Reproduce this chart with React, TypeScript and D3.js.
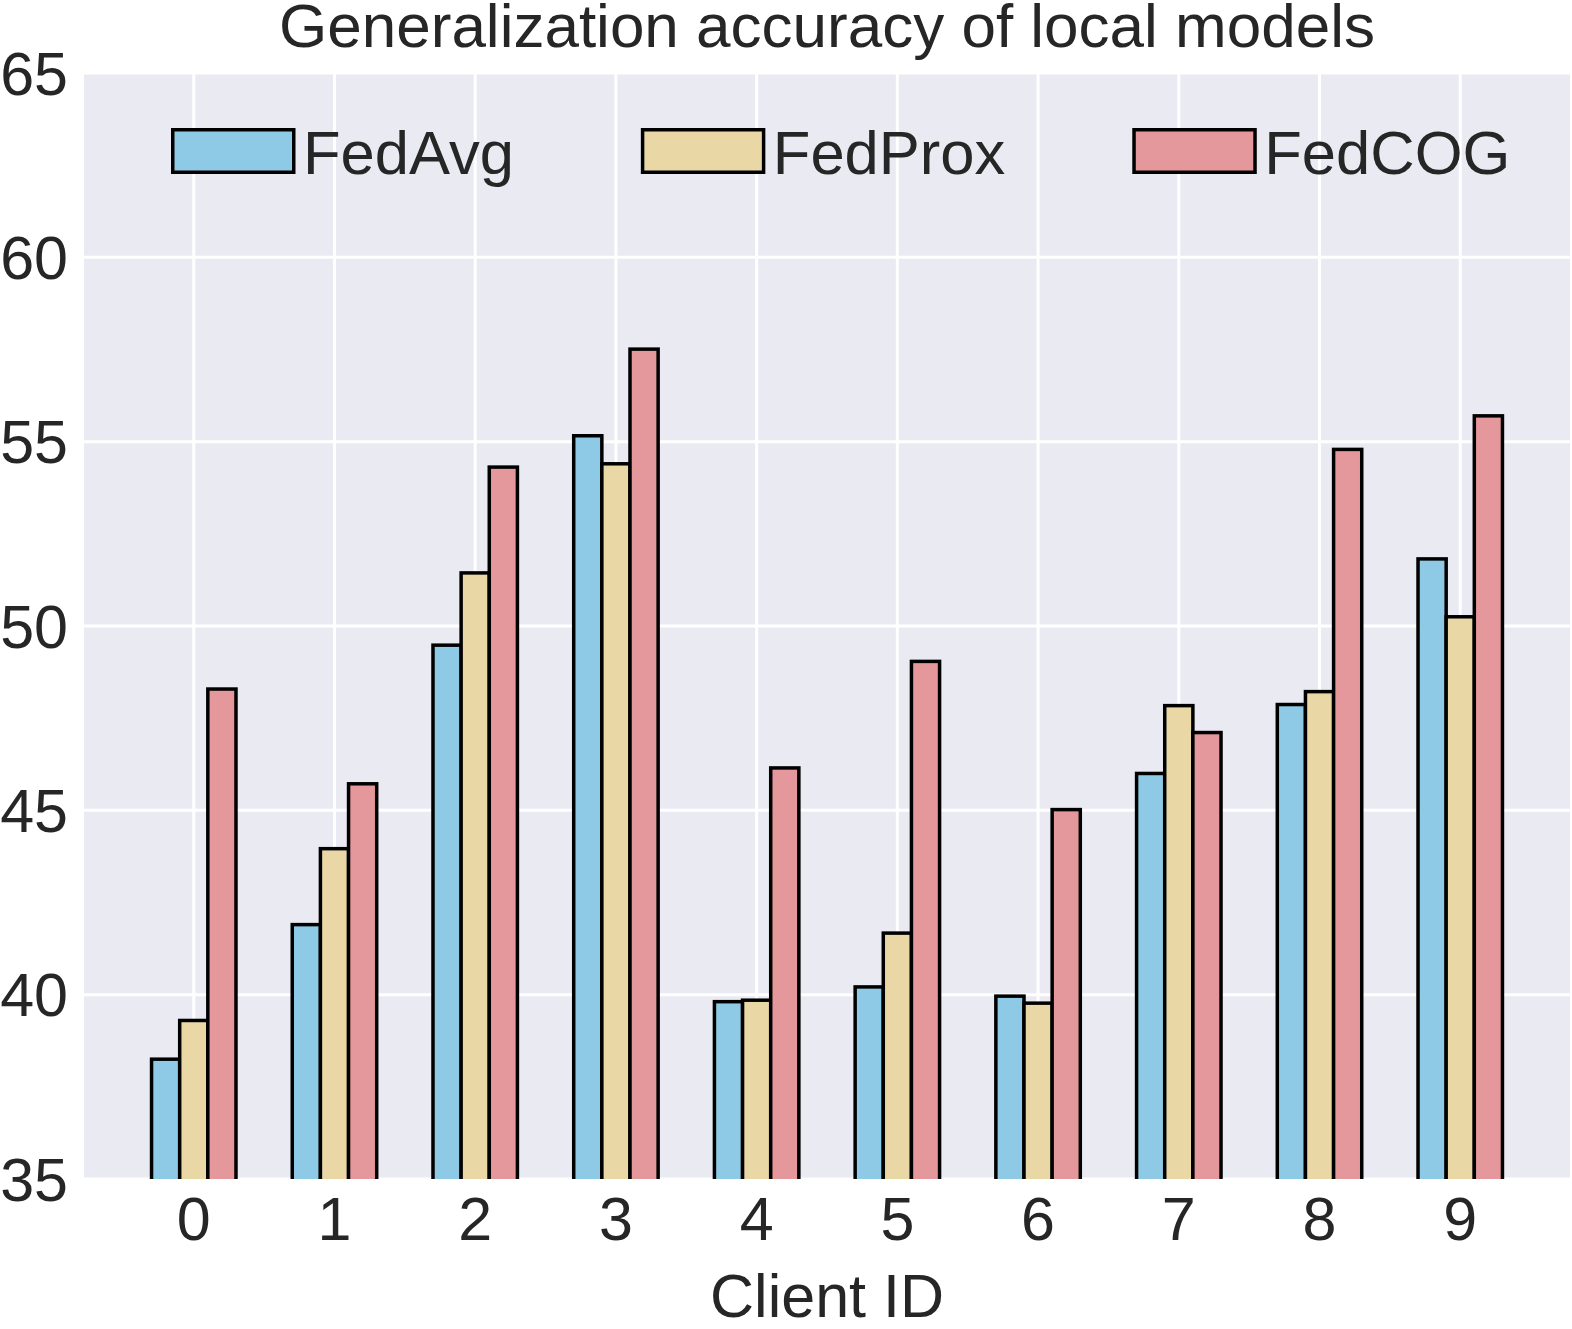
import React, { useEffect, useRef } from 'react';
import * as d3 from 'd3';

// Chart data
const clients = ['0', '1', '2', '3', '4', '5', '6', '7', '8', '9'];
const fedAvg = [38.25, 41.9, 49.48, 55.16, 39.81, 40.21, 39.96, 46.0, 47.87, 51.82];
const fedProx = [39.3, 43.96, 51.44, 54.4, 39.85, 41.67, 39.77, 47.84, 48.22, 50.25];
const fedCOG = [48.29, 45.72, 54.31, 57.51, 46.15, 49.04, 45.02, 47.11, 54.79, 55.7];
const seriesNames = ['FedAvg', 'FedProx', 'FedCOG'];
const seriesColors = ['#8ECAE6', '#E9D8A6', '#E5989B'];
const yTicks = [35, 40, 45, 50, 55, 60, 65];

const WIDTH = 1572;
const HEIGHT = 1329;
const FONT = '"Liberation Sans", Arial, sans-serif';
const TEXT = '#262626';

export default function App() {
  const svgRef = useRef<SVGSVGElement>(null);

  useEffect(() => {
    if (!svgRef.current) return;
    const svg = d3.select(svgRef.current);
    svg.selectAll('*').remove();

    const plot = { left: 84, right: 1570, top: 73, bottom: 1179 };
    const series = [fedAvg, fedProx, fedCOG];

    const x = d3.scaleLinear().domain([-0.78, 9.78]).range([plot.left, plot.right]);
    const y = d3.scaleLinear().domain([35, 65]).range([plot.bottom, plot.top]);
    const barW = x(0.2) - x(0);

    svg.append('defs')
      .append('clipPath')
      .attr('id', 'plot-clip')
      .append('rect')
      .attr('x', plot.left)
      .attr('y', plot.top)
      .attr('width', plot.right - plot.left)
      .attr('height', plot.bottom - plot.top);

    // background
    svg.append('rect')
      .attr('x', plot.left)
      .attr('y', plot.top)
      .attr('width', plot.right - plot.left)
      .attr('height', plot.bottom - plot.top)
      .attr('fill', '#EAEAF2');

    // grid
    const grid = svg.append('g').attr('stroke', '#fff').attr('stroke-width', 3);
    grid.selectAll('line.h')
      .data(yTicks)
      .join('line')
      .attr('class', 'h')
      .attr('x1', plot.left)
      .attr('x2', plot.right)
      .attr('y1', d => y(d))
      .attr('y2', d => y(d));
    grid.selectAll('line.v')
      .data(clients)
      .join('line')
      .attr('class', 'v')
      .attr('x1', (_, i) => x(i))
      .attr('x2', (_, i) => x(i))
      .attr('y1', plot.top)
      .attr('y2', plot.bottom);

    // bars
    const bars = svg.append('g').attr('clip-path', 'url(#plot-clip)');
    series.forEach((vals, k) => {
      bars.append('g')
        .selectAll('rect')
        .data(vals)
        .join('rect')
        .attr('x', (_, i) => x(i + (k - 1) * 0.2) - barW / 2)
        .attr('y', d => y(d))
        .attr('width', barW)
        .attr('height', d => y(35) - y(d) + 4)
        .attr('fill', seriesColors[k])
        .attr('stroke', '#000')
        .attr('stroke-width', 3.5);
    });

    // y tick labels
    svg.append('g')
      .selectAll('text')
      .data(yTicks)
      .join('text')
      .attr('x', 68)
      .attr('y', d => y(d) + 21.5)
      .attr('text-anchor', 'end')
      .attr('font-family', FONT)
      .attr('font-size', 61)
      .attr('fill', TEXT)
      .text(d => d);

    // x tick labels
    svg.append('g')
      .selectAll('text')
      .data(clients)
      .join('text')
      .attr('x', (_, i) => x(i))
      .attr('y', 1240)
      .attr('text-anchor', 'middle')
      .attr('font-family', FONT)
      .attr('font-size', 61)
      .attr('fill', TEXT)
      .text(d => d);

    const cx = (plot.left + plot.right) / 2;
    svg.append('text')
      .attr('x', cx)
      .attr('y', 1317)
      .attr('text-anchor', 'middle')
      .attr('font-family', FONT)
      .attr('font-size', 61)
      .attr('fill', TEXT)
      .text('Client ID');

    svg.append('text')
      .attr('x', cx)
      .attr('y', 47)
      .attr('text-anchor', 'middle')
      .attr('font-family', FONT)
      .attr('font-size', 62)
      .attr('fill', TEXT)
      .text('Generalization accuracy of local models');

    // legend
    const legend = svg.append('g');
    let lx = 171;
    seriesNames.forEach((name, k) => {
      legend.append('rect')
        .attr('x', lx + 1.75)
        .attr('y', 129.75)
        .attr('width', 121)
        .attr('height', 42.5)
        .attr('fill', seriesColors[k])
        .attr('stroke', '#000')
        .attr('stroke-width', 3.5);
      const t = legend.append('text')
        .attr('x', lx + 132)
        .attr('y', 174)
        .attr('font-family', FONT)
        .attr('font-size', 61.5)
        .attr('fill', TEXT)
        .text(name);
      const tw = (t.node() as SVGTextElement).getComputedTextLength();
      lx = lx + 132 + tw + 127;
    });
  }, []);

  return (
    <svg
      ref={svgRef}
      width={WIDTH}
      height={HEIGHT}
      style={{ position: 'absolute', left: 0, top: 0, background: '#fff' }}
    />
  );
}
